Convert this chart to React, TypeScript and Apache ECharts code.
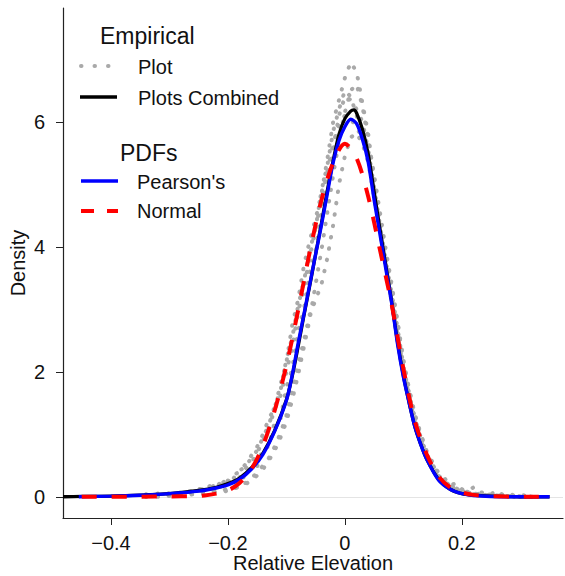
import React, { useEffect, useRef } from "react";
import * as echarts from "echarts";

const FONT = '"Liberation Sans", Arial, Helvetica, sans-serif';

// Tick values
const xTicks = [-0.4, -0.2, 0, 0.2];
const yTicks = [0, 2, 4, 6];

// Empirical: individual plots (grey dotted)
const xGrey = [
  -0.34, -0.33, -0.32, -0.31, -0.3, -0.29, -0.28, -0.27, -0.26, -0.25,
  -0.24, -0.23, -0.22, -0.21, -0.2, -0.19, -0.18, -0.17, -0.16, -0.15,
  -0.14, -0.13, -0.12, -0.11, -0.1, -0.09, -0.08, -0.07, -0.06, -0.05,
  -0.04, -0.03, -0.02, -0.01, 0.0, 0.01, 0.02, 0.03, 0.04, 0.05,
  0.06, 0.07, 0.08, 0.09, 0.1, 0.11, 0.12, 0.13, 0.14, 0.15,
  0.16, 0.17, 0.18, 0.19, 0.2, 0.21, 0.22, 0.23, 0.24, 0.25,
  0.26, 0.27, 0.28, 0.29, 0.3, 0.31, 0.32,
];
const plot1 = [
  0.02, 0.05, 0.03, 0.06, 0.04, 0.08, 0.05, 0.1, 0.07, 0.13,
  0.1, 0.18, 0.15, 0.26, 0.24, 0.35, 0.4, 0.52, 0.66, 0.8,
  1.0, 1.25, 1.42, 1.8, 2.15, 2.75, 3.15, 3.7, 4.1, 4.45,
  4.85, 5.4, 6.0, 6.35, 6.7, 6.95, 6.8, 6.3, 5.8, 5.05,
  4.4, 3.85, 3.35, 2.8, 2.15, 1.72, 1.3, 0.98, 0.72, 0.55,
  0.38, 0.3, 0.18, 0.22, 0.12, 0.1, 0.15, 0.06, 0.08, 0.04,
  0.1, 0.03, 0.05, 0.02, 0.04, 0.01, 0.02,
];
const plot2 = [
  0.0, 0.02, 0.01, 0.03, 0.02, 0.04, 0.03, 0.05, 0.06, 0.05,
  0.08, 0.07, 0.1, 0.09, 0.14, 0.12, 0.2, 0.22, 0.3, 0.38,
  0.5, 0.62, 0.8, 1.02, 1.3, 1.7, 2.1, 2.5, 2.92, 3.15,
  3.4, 3.82, 4.35, 5.0, 5.45, 5.75, 5.82, 5.65, 5.35, 4.8,
  4.25, 3.7, 3.15, 2.55, 2.0, 1.58, 1.2, 0.9, 0.64, 0.48,
  0.3, 0.22, 0.14, 0.1, 0.06, 0.05, 0.03, 0.04, 0.02, 0.03,
  0.01, 0.02, 0.01, 0.01, 0.0, 0.01, 0.0,
];
const plot3 = [
  0.04, 0.02, 0.05, 0.03, 0.06, 0.04, 0.07, 0.05, 0.1, 0.08,
  0.14, 0.11, 0.2, 0.14, 0.26, 0.18, 0.33, 0.3, 0.5, 0.48,
  0.78, 0.8, 1.2, 1.25, 1.75, 2.05, 2.65, 3.0, 3.6, 3.95,
  4.55, 5.05, 5.55, 6.1, 6.4, 6.35, 6.2, 6.0, 5.55, 4.95,
  4.35, 3.75, 3.2, 2.65, 2.05, 1.65, 1.22, 0.95, 0.66, 0.52,
  0.33, 0.28, 0.15, 0.14, 0.07, 0.08, 0.03, 0.05, 0.02, 0.04,
  0.01, 0.03, 0.01, 0.02, 0.0, 0.01, 0.0,
];
const plot4 = [
  0.01, 0.03, 0.02, 0.05, 0.03, 0.06, 0.04, 0.08, 0.06, 0.11,
  0.09, 0.16, 0.12, 0.22, 0.2, 0.3, 0.31, 0.45, 0.55, 0.7,
  0.9, 1.1, 1.4, 1.62, 2.0, 2.4, 2.95, 3.35, 3.85, 4.3,
  4.75, 5.2, 5.65, 5.95, 6.1, 6.05, 5.9, 5.75, 5.45, 4.9,
  4.3, 3.75, 3.25, 2.7, 2.1, 1.62, 1.25, 0.92, 0.68, 0.5,
  0.34, 0.25, 0.17, 0.12, 0.09, 0.06, 0.07, 0.03, 0.05, 0.02,
  0.03, 0.01, 0.02, 0.0, 0.01, 0.0, 0.01,
];
const plot5 = [
  0.03, 0.01, 0.04, 0.02, 0.05, 0.07, 0.06, 0.09, 0.08, 0.12,
  0.12, 0.15, 0.19, 0.22, 0.28, 0.3, 0.42, 0.48, 0.62, 0.74,
  0.95, 1.15, 1.45, 1.7, 2.2, 2.55, 3.05, 3.45, 3.95, 4.3,
  4.9, 5.3, 5.85, 6.2, 6.5, 6.4, 6.1, 5.85, 5.4, 4.85,
  4.25, 3.7, 3.1, 2.6, 2.05, 1.6, 1.18, 0.9, 0.62, 0.47,
  0.3, 0.24, 0.16, 0.11, 0.08, 0.05, 0.04, 0.06, 0.02, 0.01,
  0.02, 0.0, 0.01, 0.0, 0.0, 0.01, 0.0,
];
const plot6 = [
  0.0, 0.01, 0.0, 0.02, 0.01, 0.02, 0.03, 0.02, 0.04, 0.03,
  0.05, 0.06, 0.08, 0.07, 0.1, 0.13, 0.16, 0.2, 0.26, 0.34,
  0.44, 0.58, 0.74, 0.95, 1.2, 1.55, 1.95, 2.4, 2.85, 3.4,
  3.95, 4.55, 5.15, 5.7, 6.15, 6.5, 6.6, 6.25, 5.7, 5.15,
  4.55, 3.95, 3.4, 2.8, 2.2, 1.7, 1.3, 1.0, 0.72, 0.52,
  0.36, 0.25, 0.2, 0.12, 0.1, 0.06, 0.04, 0.02, 0.03, 0.01,
  0.02, 0.0, 0.01, 0.0, 0.01, 0.0, 0.0,
];

// Empirical: plots combined (black)
const combinedX = [
  -0.482, -0.45, -0.4, -0.35, -0.3, -0.25, -0.22, -0.2, -0.18, -0.16,
  -0.14, -0.12, -0.1, -0.09, -0.08, -0.07, -0.06, -0.05, -0.04, -0.03,
  -0.02, -0.01, 0.0, 0.01, 0.015, 0.02, 0.03, 0.04, 0.05, 0.06,
  0.07, 0.08, 0.09, 0.1, 0.11, 0.12, 0.13, 0.14, 0.16, 0.18,
  0.2, 0.22, 0.25, 0.3, 0.35,
];
const combinedY = [
  0, 0.005, 0.01, 0.025, 0.05, 0.1, 0.15, 0.21, 0.3, 0.46,
  0.7, 1.06, 1.55, 1.93, 2.4, 2.9, 3.38, 3.88, 4.38, 4.9,
  5.38, 5.8, 6.05, 6.17, 6.19, 6.14, 5.88, 5.48, 4.88, 4.28,
  3.7, 3.12, 2.48, 1.94, 1.5, 1.11, 0.83, 0.6, 0.28, 0.12,
  0.05, 0.025, 0.01, 0, 0,
];

// PDF: Pearson's (blue)
const pearsonX = [
  -0.455, -0.4, -0.35, -0.3, -0.25, -0.22, -0.2, -0.18, -0.16, -0.14,
  -0.12, -0.1, -0.09, -0.08, -0.07, -0.06, -0.05, -0.04, -0.03, -0.02,
  -0.01, 0.0, 0.01, 0.02, 0.03, 0.04, 0.05, 0.06, 0.07, 0.08,
  0.09, 0.1, 0.11, 0.12, 0.13, 0.14, 0.16, 0.18, 0.2, 0.22,
  0.25, 0.3, 0.35,
];
const pearsonY = [
  0, 0.01, 0.025, 0.05, 0.09, 0.14, 0.19, 0.28, 0.44, 0.68,
  1.05, 1.54, 1.95, 2.45, 2.92, 3.4, 3.88, 4.35, 4.85, 5.35,
  5.7, 5.92, 6.04, 5.97, 5.72, 5.35, 4.75, 4.2, 3.65, 3.1,
  2.45, 1.92, 1.5, 1.11, 0.83, 0.6, 0.27, 0.12, 0.05, 0.02,
  0.005, 0, 0,
];

// PDF: Normal (red dashed)
const normalX = [
  -0.45, -0.4, -0.35, -0.3, -0.26, -0.24, -0.22, -0.2, -0.18, -0.16,
  -0.14, -0.12, -0.1, -0.08, -0.06, -0.04, -0.02, 0.0, 0.02, 0.04,
  0.06, 0.08, 0.1, 0.12, 0.14, 0.16, 0.18, 0.2, 0.22, 0.25,
  0.3, 0.35,
];
const normalY = [
  0, 0, 0.001, 0.005, 0.01, 0.02, 0.05, 0.1, 0.22, 0.44,
  0.82, 1.38, 2.1, 2.98, 3.92, 4.75, 5.35, 5.65, 5.42, 4.8,
  3.95, 3.08, 2.05, 1.2, 0.68, 0.33, 0.15, 0.07, 0.03, 0.01,
  0, 0,
];

const GREY = "#a9a9a9";
const zip = (xs: number[], ys: number[]) => xs.map((x, i) => [x, ys[i]]);
const fmtX = (v: number) =>
  v === 0 ? "0" : (v < 0 ? "\u2212" : "") + Math.abs(v).toFixed(1);

function greySeries(ys: number[], withZero: boolean) {
  const s: any = {
    type: "line",
    data: zip(xGrey, ys),
    showSymbol: false,
    symbol: "none",
    smooth: false,
    z: 2,
    lineStyle: { color: GREY, width: 4, type: [0.5, 11], cap: "round", join: "round" },
  };
  if (withZero) {
    s.markLine = {
      silent: true,
      symbol: "none",
      label: { show: false },
      z: 1,
      lineStyle: { color: "#e4e4e4", width: 1, type: "solid" },
      data: [{ yAxis: 0 }],
    };
  }
  return s;
}

export default function App() {
  const ref = useRef<HTMLDivElement>(null);
  useEffect(() => {
    const chart = echarts.init(ref.current!, null, { renderer: "svg" });
    const txt = (text: string, x: number, y: number, size: number) => ({
      type: "text",
      x,
      y,
      style: {
        text,
        fontSize: size,
        fontFamily: FONT,
        fill: "#111",
        align: "left",
        verticalAlign: "middle",
      },
    });
    const seg = (x1: number, x2: number, y: number, style: any) => ({
      type: "line",
      shape: { x1, y1: y, x2, y2: y },
      style,
    });
    chart.setOption({
      animation: false,
      backgroundColor: "#ffffff",
      textStyle: { fontFamily: FONT },
      grid: {
        left: 63,
        right: 2,
        top: 8,
        bottom: 58,
        containLabel: false,
        outerBoundsMode: "none",
      },
      xAxis: {
        type: "value",
        min: -0.482,
        max: 0.373,
        axisLine: { show: true, onZero: false, lineStyle: { color: "#222", width: 1.2 } },
        axisTick: { show: true, length: 7, customValues: xTicks, lineStyle: { color: "#222", width: 1 } },
        axisLabel: {
          customValues: xTicks,
          formatter: fmtX,
          fontSize: 20,
          fontFamily: FONT,
          color: "#111",
          margin: 15,
        },
        splitLine: { show: false },
        name: "Relative Elevation",
        nameLocation: "middle",
        nameGap: 35,
        nameMoveOverlap: false,
        nameTextStyle: { fontSize: 20, fontFamily: FONT, color: "#111" },
      },
      yAxis: {
        type: "value",
        min: -0.34,
        max: 7.82,
        axisLine: { show: true, onZero: false, lineStyle: { color: "#222", width: 1.2 } },
        axisTick: { show: true, length: 7, customValues: yTicks, lineStyle: { color: "#222", width: 1 } },
        axisLabel: {
          customValues: yTicks,
          fontSize: 20,
          fontFamily: FONT,
          color: "#111",
          margin: 18,
        },
        splitLine: { show: false },
        name: "Density",
        nameLocation: "middle",
        nameGap: 35,
        nameMoveOverlap: false,
        nameTextStyle: { fontSize: 20, fontFamily: FONT, color: "#111" },
      },
      series: [
        greySeries(plot1, true),
        greySeries(plot2, false),
        greySeries(plot3, false),
        greySeries(plot4, false),
        greySeries(plot5, false),
        greySeries(plot6, false),
        {
          type: "line",
          data: zip(combinedX, combinedY),
          showSymbol: false,
          symbol: "none",
          smooth: 0.3,
          z: 3,
          lineStyle: { color: "#000000", width: 3.3 },
        },
        {
          type: "line",
          data: zip(pearsonX, pearsonY),
          showSymbol: false,
          symbol: "none",
          smooth: 0.3,
          z: 4,
          lineStyle: { color: "#0000ff", width: 3.4 },
        },
        {
          type: "line",
          data: zip(normalX, normalY),
          showSymbol: false,
          symbol: "none",
          smooth: 0.3,
          z: 5,
          lineStyle: { color: "#ff0000", width: 4, type: [15, 15] },
        },
      ],
      graphic: [
        txt("Empirical", 100, 36, 23),
        seg(81, 111, 66, { stroke: GREY, lineWidth: 4, lineDash: [0.5, 13], lineCap: "round" }),
        txt("Plot", 138, 67, 20),
        seg(80, 117, 97, { stroke: "#000", lineWidth: 3.5 }),
        txt("Plots Combined", 138, 98, 20),
        txt("PDFs", 120, 153, 23),
        seg(81, 118, 181, { stroke: "#0000ff", lineWidth: 3.5 }),
        txt("Pearson's", 137, 182, 20),
        seg(81, 118, 211, { stroke: "#ff0000", lineWidth: 4, lineDash: [13, 13] }),
        txt("Normal", 137, 211, 20),
      ],
    });
    return () => chart.dispose();
  }, []);
  return (
    <div
      ref={ref}
      style={{ position: "absolute", left: 0, top: 0, width: 565, height: 576 }}
    />
  );
}
